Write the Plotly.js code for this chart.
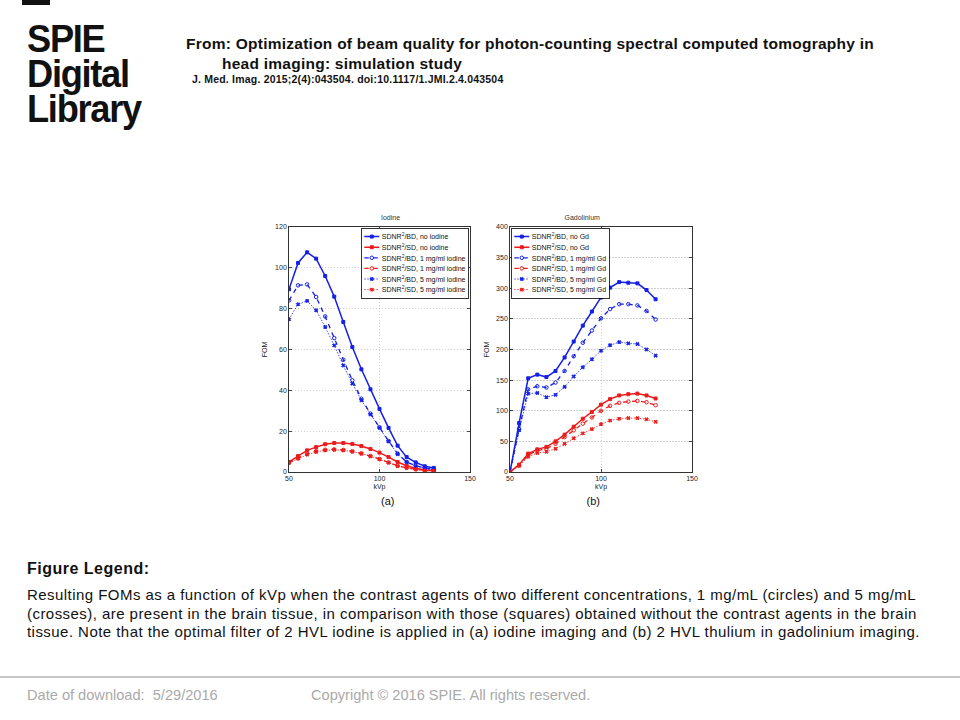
<!DOCTYPE html>
<html>
<head>
<meta charset="utf-8">
<script src="https://cdn.plot.ly/plotly-3.0.1.min.js"></script>
<style>
  html, body { margin:0; padding:0; background:#fff; width:960px; height:720px; overflow:hidden; font-family:"Liberation Sans", Arial, sans-serif; }
  .abs { position:absolute; white-space:nowrap; }
  #bar { position:absolute; left:22px; top:0; width:28px; height:5px; background:#111; }
  .logo { position:absolute; left:27px; top:21px; font-weight:bold; font-size:39px; line-height:35px; letter-spacing:-1.4px; color:#111; transform:scaleX(0.93); transform-origin:left top; }
  #rule { position:absolute; left:0; top:676px; width:960px; height:2px; background:#c8c8c8; }
  #chartwrap { position:absolute; left:250px; top:200px; width:920px; height:630px; transform:scale(0.5); transform-origin:0 0; }
</style>
</head>
<body>
<div id="bar"></div>
<div class="logo">SPIE<br>Digital<br>Library</div>

<div class="abs" style="left:186px; top:35px; font-size:15.5px; line-height:18px; letter-spacing:0.25px; font-weight:bold; color:#111;">From: Optimization of beam quality for photon-counting spectral computed tomography in</div>
<div class="abs" style="left:222px; top:55px; font-size:15.5px; line-height:18px; letter-spacing:0.25px; font-weight:bold; color:#111;">head imaging: simulation study</div>
<div class="abs" style="left:192px; top:73px; font-size:10.5px; line-height:12px; letter-spacing:0.2px; font-weight:bold; color:#111;">J. Med. Imag. 2015;2(4):043504. doi:10.1117/1.JMI.2.4.043504</div>

<div class="abs" style="left:27px; top:560px; font-size:16px; line-height:18px; letter-spacing:0.5px; font-weight:bold; color:#111;">Figure Legend:</div>
<div class="abs" style="left:27px; top:586px; font-size:15px; line-height:18.5px; letter-spacing:0.45px; color:#111;">Resulting FOMs as a function of kVp when the contrast agents of two different concentrations, 1 mg/mL (circles) and 5 mg/mL<br>(crosses), are present in the brain tissue, in comparison with those (squares) obtained without the contrast agents in the brain<br>tissue. Note that the optimal filter of 2 HVL iodine is applied in (a) iodine imaging and (b) 2 HVL thulium in gadolinium imaging.</div>

<div id="rule"></div>
<div class="abs" style="left:27px; top:687px; font-size:14.6px; line-height:16px; color:#aaaaaa;">Date of download:&nbsp; 5/29/2016</div>
<div class="abs" style="left:311px; top:687px; font-size:14.6px; line-height:16px; color:#aaaaaa;">Copyright © 2016 SPIE. All rights reserved.</div>

<div id="chartwrap"><div id="chart" style="width:920px;height:630px;"></div></div>

<script>
// ---- data ----
const kvp = [50,55,60,65,70,75,80,85,90,95,100,105,110,115,120,125,130];

// (a) Iodine
const iodBD_none = [89.5,102.4,107.6,104.5,96,85.9,73.5,61.2,50.3,40.5,30.9,21.6,12.9,7.3,4.7,2.8,2.0];
const iodSD_none = [4.9,7.8,10.6,12.2,13.6,14.2,14.2,13.7,12.7,11.3,9.5,7.3,4.9,3.1,1.8,1.0,0.7];
const iodBD_1 = [84,91.4,91.9,85.7,76.2,65.6,55,44.9,35.9,28.6,21.9,15.2,9.0,4.9,3.1,2.0,1.3];
const iodSD_1 = [4.6,6.9,9.0,10.3,10.9,11.1,10.8,10.1,9.1,7.8,6.4,4.7,3.1,2.0,1.3,0.8,0.6];
const iodBD_5 = [74.8,82.1,83.8,79.2,71,62,52.2,43.3,35.1,28.2,21.6,15,8.8,4.9,2.9,1.8,1.1];
const iodSD_5 = [4.4,6.5,8.5,9.8,10.6,10.9,10.6,10.0,9.0,7.7,6.2,4.6,2.9,2.0,1.3,0.8,0.6];

// (b) Gadolinium
const gdBD_none = [0,80,153,159,155,165,187,213,239,262,285,301,310,309,308,297,282];
const gdSD_none = [0,12,30,37,41,50,61,74,87,98,110,119,125,127,128,125,120];
const gdBD_1 = [0,70,135,140,138,146,165,189,211,231,251,266,274,274,272,263,249];
const gdSD_1 = [0,11,28,35,38,46,57,68,79,89,100,108,113,115,116,114,109];
const gdBD_5 = [0,68,128,129,122,126,139,156,171,184,198,207,212,210,209,200,190];
const gdSD_5 = [0,10,25,31,33,38,46,55,63,70,78,84,87,88,88,86,82];

const iodNames = ["SDNR<sup>2</sup>/BD, no iodine","SDNR<sup>2</sup>/SD, no iodine","SDNR<sup>2</sup>/BD, 1 mg/ml iodine","SDNR<sup>2</sup>/SD, 1 mg/ml iodine","SDNR<sup>2</sup>/BD, 5 mg/ml iodine","SDNR<sup>2</sup>/SD, 5 mg/ml iodine"];
const gdNames = ["SDNR<sup>2</sup>/BD, no Gd","SDNR<sup>2</sup>/SD, no Gd","SDNR<sup>2</sup>/BD, 1 mg/ml Gd","SDNR<sup>2</sup>/SD, 1 mg/ml Gd","SDNR<sup>2</sup>/BD, 5 mg/ml Gd","SDNR<sup>2</sup>/SD, 5 mg/ml Gd"];

const xTicks = [50,100,150];
const iodYTicks = [0,20,40,60,80,100,120];
const gdYTicks = [0,50,100,150,200,250,300,350,400];

// ---- styles ----
const BLUE = "#1420e6", RED = "#ec1c1c";
const styles = [
  {color:BLUE, dash:"solid", width:3, sym:"square", msize:6},
  {color:RED, dash:"solid", width:3, sym:"square", msize:6},
  {color:BLUE, dash:"dash", width:2.6, sym:"circle-open", msize:7},
  {color:RED, dash:"dash", width:2.6, sym:"circle-open", msize:7},
  {color:BLUE, dash:"dot", width:1.6, sym:"x", msize:6},
  {color:RED, dash:"dot", width:1.6, sym:"x", msize:6}
];

function mk(y, i, names, xa, ya, leg) {
  const s = styles[i];
  return {
    x: kvp, y: y, name: names[i], type: "scatter", mode: "lines+markers",
    xaxis: xa, yaxis: ya, legend: leg,
    line: {color: s.color, dash: s.dash, width: s.width},
    marker: {symbol: s.sym, size: s.msize, color: s.color, line: {color: s.color, width: 2}}
  };
}

const iodSeries = [iodBD_none, iodSD_none, iodBD_1, iodSD_1, iodBD_5, iodSD_5];
const gdSeries = [gdBD_none, gdSD_none, gdBD_1, gdSD_1, gdBD_5, gdSD_5];
const data = [];
iodSeries.forEach((y, i) => data.push(mk(y, i, iodNames, "x", "y", "legend")));
gdSeries.forEach((y, i) => data.push(mk(y, i, gdNames, "x2", "y2", "legend2")));

const TF = {family: "Liberation Sans, Arial, sans-serif", size: 14, color: "#222"};
function axis(extra) {
  return Object.assign({
    showline: true, linecolor: "#000", linewidth: 1.6, mirror: "ticks",
    ticks: "inside", ticklen: 6, tickwidth: 1.4, tickcolor: "#000",
    showgrid: true, gridcolor: "#b0b0b0", griddash: "dot", gridwidth: 1.2,
    zeroline: false, tickfont: TF, fixedrange: true
  }, extra);
}

const legBase = {
  bgcolor: "#fff", bordercolor: "#000", borderwidth: 1.6,
  font: {family: "Liberation Sans, Arial, sans-serif", size: 14, color: "#111"},
  xanchor: "left", yanchor: "top", tracegroupgap: 0, itemwidth: 30
};

const layout = {
  width: 920, height: 630,
  margin: {l: 0, r: 0, t: 0, b: 0},
  paper_bgcolor: "rgba(0,0,0,0)", plot_bgcolor: "#fff",
  font: {family: "Liberation Sans, Arial, sans-serif"},
  xaxis: axis({domain: [0.08478, 0.47826], range: [50, 150], tickvals: xTicks, anchor: "y",
    title: {text: "kVp", font: TF, standoff: 2}}),
  yaxis: axis({domain: [0.13651, 0.91429], range: [0, 120], tickvals: iodYTicks, anchor: "x",
    title: {text: "FOM", font: TF, standoff: 12}}),
  xaxis2: axis({domain: [0.56522, 0.96087], range: [50, 150], tickvals: xTicks, anchor: "y2",
    title: {text: "kVp", font: TF, standoff: 2}}),
  yaxis2: axis({domain: [0.13651, 0.91429], range: [0, 400], tickvals: gdYTicks, anchor: "x2",
    title: {text: "FOM", font: TF, standoff: 10}}),
  legend: Object.assign({}, legBase, {x: 0.2413, y: 0.9111}),
  legend2: Object.assign({}, legBase, {x: 0.5674, y: 0.9111}),
  annotations: [
    {text: "Iodine", xref: "paper", yref: "paper", x: 0.2826, y: 0.946, yanchor: "middle", showarrow: false, font: {size: 14, color: "#333"}},
    {text: "Gadolinium", xref: "paper", yref: "paper", x: 0.763, y: 0.946, yanchor: "middle", showarrow: false, font: {size: 14, color: "#333"}},
    {text: "(a)", xref: "paper", yref: "paper", x: 0.2826, y: 0.0444, yanchor: "middle", showarrow: false, font: {size: 22, color: "#111"}},
    {text: "(b)", xref: "paper", yref: "paper", x: 0.763, y: 0.0444, yanchor: "middle", showarrow: false, font: {size: 22, color: "#111"}}
  ],
  showlegend: true
};

Plotly.newPlot("chart", data, layout, {staticPlot: true, displayModeBar: false});
</script>
</body>
</html>
